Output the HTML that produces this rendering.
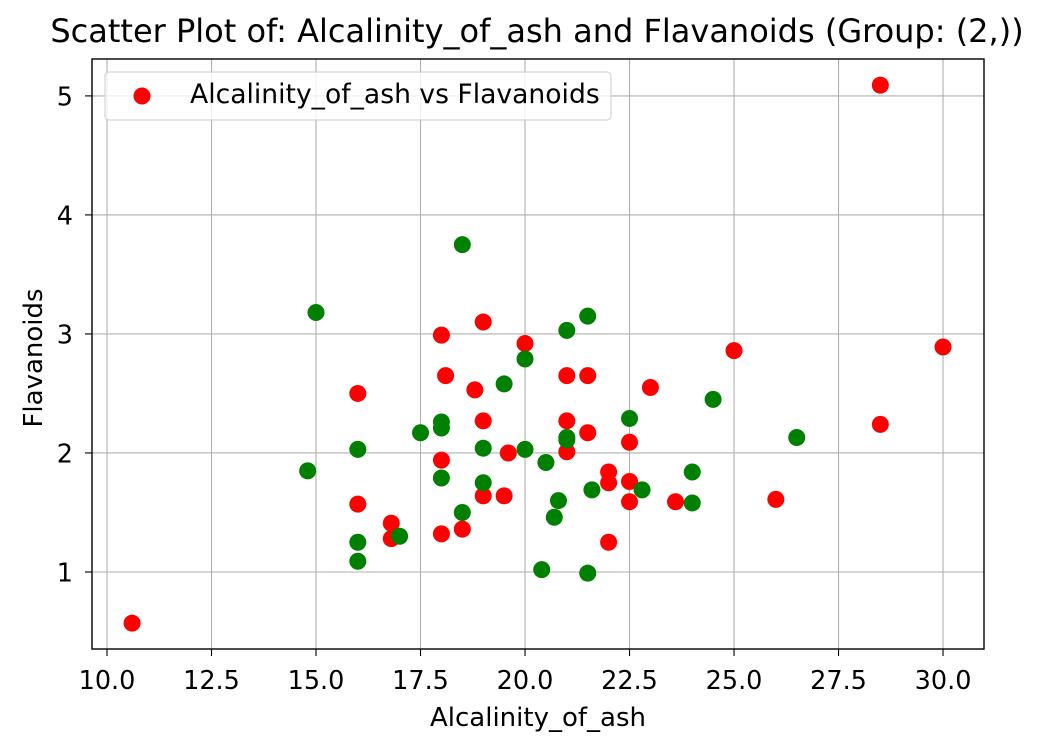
<!DOCTYPE html>
<html><head><meta charset="utf-8"><style>
body{margin:0;background:#fff;}
svg text{font-family:"DejaVu Sans","Liberation Sans",sans-serif;fill:#000;}
</style></head><body>
<svg id="chart" width="1043" height="751" xmlns="http://www.w3.org/2000/svg">
<rect width="1043" height="751" fill="#fff"/>
<text x="537" y="42" font-size="32" text-anchor="middle">Scatter Plot of: Alcalinity_of_ash and Flavanoids (Group: (2,))</text>
<g id="grid"></g>
<g id="ticks"></g>
<g id="points"></g>
<rect x="92" y="59" width="892" height="590" fill="none" stroke="#000" stroke-width="1.4"/>
<text x="538" y="726" font-size="26" text-anchor="middle">Alcalinity_of_ash</text>
<text x="42" y="358" font-size="26" text-anchor="middle" transform="rotate(-90 42 358)">Flavanoids</text>
<g>
<rect x="105" y="72" width="506" height="48" rx="4" fill="#fff" fill-opacity="0.8" stroke="#ccc"/>
<circle cx="142" cy="96" r="8.5" fill="red"/>
<text x="190" y="103" font-size="26.6">Alcalinity_of_ash vs Flavanoids</text>
</g>
</svg>
<script>
const xTicks=[10,12.5,15,17.5,20,22.5,25,27.5,30];
const yTicks=[1,2,3,4,5];
const redX=[10.6,28.5,30.0,28.5,25.0,26.0,23.0,23.6,22.5,22.5,22.5,22.0,22.0,22.0,21.5,21.5,21.0,21.0,21.0,20.0,19.6,19.5,19.0,19.0,19.0,18.8,18.5,18.1,18.0,18.0,18.0,16.8,16.8,16.0,16.0];
const redY=[0.57,5.09,2.89,2.24,2.86,1.61,2.55,1.59,2.09,1.76,1.59,1.84,1.75,1.25,2.65,2.17,2.65,2.27,2.01,2.92,2.00,1.64,3.10,2.27,1.64,2.53,1.36,2.65,2.99,1.94,1.32,1.41,1.28,2.50,1.57];
const greenX=[14.8,15.0,16.0,16.0,16.0,17.0,17.5,18.0,18.0,18.0,18.5,18.5,19.0,19.0,19.5,20.0,20.0,20.5,20.4,20.8,20.7,21.0,21.0,21.0,21.5,21.5,21.6,22.5,22.8,24.0,24.0,24.5,26.5];
const greenY=[1.85,3.18,2.03,1.25,1.09,1.30,2.17,2.21,2.26,1.79,3.75,1.50,2.04,1.75,2.58,2.79,2.03,1.92,1.02,1.60,1.46,3.03,2.13,2.11,3.15,0.99,1.69,2.29,1.69,1.84,1.58,2.45,2.13];
const L=92,R=984,T=59,B=649;
const xMin=9.641,xMax=30.98,yMin=0.353,yMax=5.31;
const sx=v=>L+(v-xMin)/(xMax-xMin)*(R-L);
const sy=v=>B-(v-yMin)/(yMax-yMin)*(B-T);
const NS='http://www.w3.org/2000/svg';
const grid=document.getElementById('grid'),ticks=document.getElementById('ticks'),pts=document.getElementById('points');
function mk(tag,attrs,parent){const e=document.createElementNS(NS,tag);for(const k in attrs)e.setAttribute(k,attrs[k]);parent.appendChild(e);return e;}
xTicks.forEach(t=>{const x=sx(t);
const g=mk('line',{x1:x,x2:x,y1:T,y2:B,stroke:'#b0b0b0','stroke-width':1.1},grid);


const tk=mk('line',{x1:x,x2:x,y1:B,y2:B+7,stroke:'#000','stroke-width':1.1},ticks);


const tx=mk('text',{x:x,y:689,'font-size':25.5,'text-anchor':'middle'},ticks);tx.textContent=t.toFixed(1);


});
yTicks.forEach(t=>{const y=sy(t);
const g=mk('line',{x1:L,x2:R,y1:y,y2:y,stroke:'#b0b0b0','stroke-width':1.1},grid);


const tk=mk('line',{x1:L-7,x2:L,y1:y,y2:y,stroke:'#000','stroke-width':1.1},ticks);


const tx=mk('text',{x:L-19,y:y+9.5,'font-size':25.5,'text-anchor':'end'},ticks);tx.textContent=String(t);


});
redX.forEach((v,i)=>{const c=mk('circle',{cx:sx(v),cy:sy(redY[i]),r:8.5,fill:'red'},pts);

});
greenX.forEach((v,i)=>{const c=mk('circle',{cx:sx(v),cy:sy(greenY[i]),r:8.5,fill:'green'},pts);

});
</script>
</body></html>
